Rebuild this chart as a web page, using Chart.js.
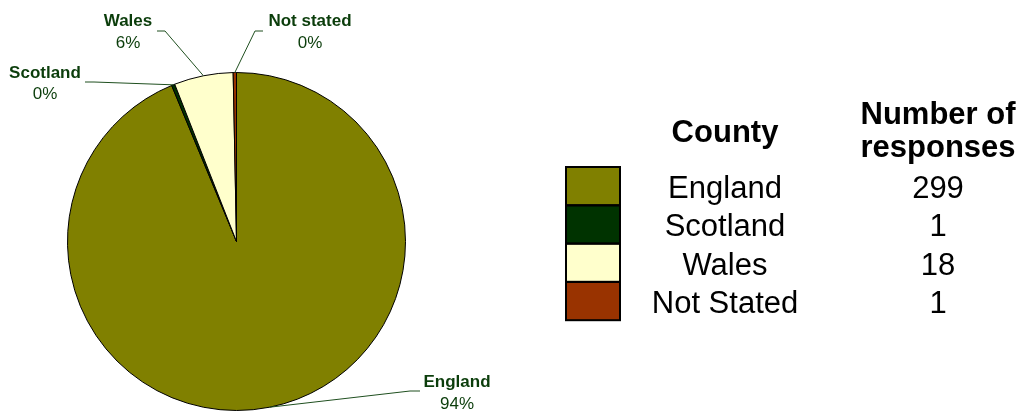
<!DOCTYPE html>
<html>
<head>
<meta charset="utf-8">
<script src="https://cdn.jsdelivr.net/npm/chart.js@4/dist/chart.umd.min.js"></script>
<style>
  html, body { margin: 0; padding: 0; background: #ffffff; }
  #wrap { width: 1021px; height: 412px; position: relative; }
</style>
</head>
<body>
<div id="wrap"><canvas id="c" width="1021" height="412"></canvas></div>
<script>
// ---- data ----
const categories = ['England', 'Scotland', 'Wales', 'Not stated'];
const legendLabels = ['England', 'Scotland', 'Wales', 'Not Stated'];
const responses = [299, 1, 18, 1];
const legendHeaders = ['County', 'Number of', 'responses'];

// ---- styles ----
const sliceColors = ['#808000', '#003300', '#FFFFCC', '#993300'];
const labelColor = '#0b3d0b';
const lineColor = '#1f4f1f';
const FONT = '"Liberation Sans", Arial, Helvetica, sans-serif';

// label layout: text centre x, name baseline y, pct baseline y, elbow start, elbow end
const labelLayout = [
  { x: 457, y1: 387, y2: 409, ex1: 420, ey: 391, ex2: 410 },   // England
  { x: 45,  y1: 78,  y2: 99,  ex1: 85,  ey: 82,  ex2: 94 },    // Scotland
  { x: 128, y1: 26,  y2: 48,  ex1: 157, ey: 31,  ex2: 165 },   // Wales
  { x: 310, y1: 26,  y2: 48,  ex1: 263, ey: 31,  ex2: 255 }    // Not stated
];

const pieLabels = {
  id: 'pieLabels',
  afterDraw(chart) {
    const ctx = chart.ctx;
    const meta = chart.getDatasetMeta(0);
    const total = responses.reduce((a, b) => a + b, 0);
    ctx.save();
    meta.data.forEach((arc, i) => {
      const p = arc.getProps(['x', 'y', 'startAngle', 'endAngle', 'outerRadius'], true);
      const mid = (p.startAngle + p.endAngle) / 2;
      const ax = p.x + Math.cos(mid) * p.outerRadius;
      const ay = p.y + Math.sin(mid) * p.outerRadius;
      const L = labelLayout[i];
      ctx.strokeStyle = lineColor;
      ctx.lineWidth = 1;
      ctx.beginPath();
      ctx.moveTo(L.ex1, L.ey);
      ctx.lineTo(L.ex2, L.ey);
      ctx.lineTo(ax, ay);
      ctx.stroke();
      ctx.fillStyle = labelColor;
      ctx.textAlign = 'center';
      ctx.textBaseline = 'alphabetic';
      ctx.font = 'bold 17px ' + FONT;
      ctx.fillText(categories[i], L.x, L.y1);
      ctx.font = '17px ' + FONT;
      const pct = Math.round(responses[i] / total * 100) + '%';
      ctx.fillText(pct, L.x, L.y2);
    });
    ctx.restore();
  }
};

const legendTable = {
  id: 'legendTable',
  afterDraw(chart) {
    const ctx = chart.ctx;
    ctx.save();
    const bx = 566, bw = 54, top = 167, rh = 38.3;
    ctx.fillStyle = '#000000';
    ctx.textAlign = 'center';
    ctx.textBaseline = 'alphabetic';
    ctx.font = 'bold 31px ' + FONT;
    ctx.fillText(legendHeaders[0], 725, 142);
    ctx.fillText(legendHeaders[1], 938, 124);
    ctx.fillText(legendHeaders[2], 938, 157);
    ctx.font = '31px ' + FONT;
    legendLabels.forEach((lab, i) => {
      const y = top + i * rh;
      ctx.fillStyle = sliceColors[i];
      ctx.fillRect(bx, y, bw, rh);
      ctx.fillStyle = '#000000';
      ctx.fillText(lab, 725, y + rh / 2 + 12);
      ctx.fillText(String(responses[i]), 938, y + rh / 2 + 12);
    });
    ctx.strokeStyle = '#000000';
    ctx.lineWidth = 2;
    legendLabels.forEach((lab, i) => {
      ctx.strokeRect(bx, top + i * rh, bw, rh);
    });
    ctx.restore();
  }
};

new Chart(document.getElementById('c'), {
  type: 'pie',
  data: {
    labels: categories,
    datasets: [{
      data: responses,
      backgroundColor: sliceColors,
      borderColor: '#000000',
      borderWidth: 1
    }]
  },
  options: {
    responsive: false,
    devicePixelRatio: 1,
    animation: false,
    layout: { padding: { left: 67, top: 72, right: 615, bottom: 1 } },
    plugins: {
      legend: { display: false },
      tooltip: { enabled: false },
      title: { display: false }
    }
  },
  plugins: [pieLabels, legendTable]
});
</script>
</body>
</html>
